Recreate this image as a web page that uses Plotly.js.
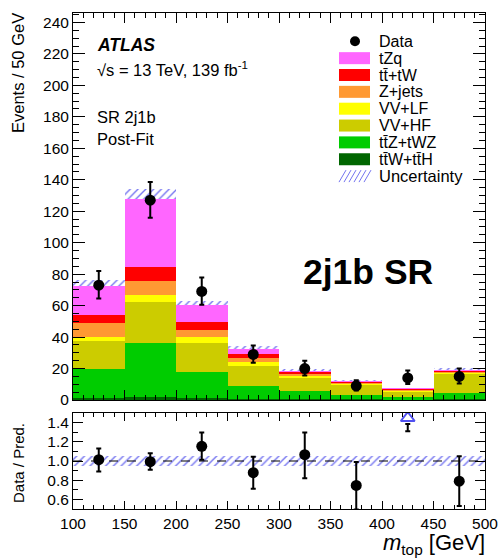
<!DOCTYPE html>
<html>
<head>
<meta charset="utf-8">
<script src="https://cdn.plot.ly/plotly-3.0.1.min.js"></script>
<style>html,body{margin:0;padding:0;background:#fff;}#plot{width:498px;height:559px;}</style>
</head>
<body>
<div id="plot"></div>
<script>
// ---------------- data ----------------
const binCenters = [125, 175, 225, 275, 325, 375, 425, 475];
const binWidth = 50;

// stacked backgrounds (bottom -> top), events per bin
const ttWttH = [1.5, 2.0, 1.5, 0.8, 0.6, 0.4, 0.3, 0.5];
const ttZtWZ = [17.9, 34.1, 16.3, 8.4, 5.1, 2.8, 1.4, 3.8];
const vvHF   = [17.8, 26.1, 18.5, 12.3, 8.1, 6.4, 3.6, 12.1];
const vvLF   = [2.6, 4.5, 3.5, 2.5, 1.5, 0.7, 0.7, 0.6];
const zJets  = [9.0, 9.0, 4.9, 2.9, 1.1, 0.5, 0.5, 0.9];
const ttTW   = [5.4, 8.6, 4.8, 2.6, 1.3, 0.7, 0.5, 0.6];
const tZq    = [18.3, 43.7, 10.7, 3.2, 0.8, 0.6, 0.5, 0.7];

// total prediction uncertainty (absolute)
const predUnc = [3.6, 6.4, 3.0, 1.6, 0.9, 0.6, 0.4, 1.0];

// data
const dataY      = [73, 127, 69, 29, 20, 9, 14, 15];
const dataErrUp  = [9.0, 11.5, 8.8, 5.6, 5.0, 3.5, 4.7, 5.0];
const dataErrDn  = [8.5, 11.2, 8.4, 5.4, 4.5, 2.9, 3.8, 4.5];

// ratio panel
const ratioY      = [1.014, 0.993, 1.153, 0.878, 1.066, 0.746, 1.87, 0.79];
const ratioErrUp  = [0.116, 0.087, 0.143, 0.167, 0.23, 0.244, 0.60, 0.26];
const ratioErrDn  = [0.124, 0.083, 0.139, 0.168, 0.246, 0.25, 0.56, 0.26];
const ratioUnc    = [0.05, 0.05, 0.05, 0.05, 0.05, 0.05, 0.05, 0.05];

const xTicks = [100, 150, 200, 250, 300, 350, 400, 450, 500];

const samples = [
  {name: 'tt̄W+tt̄H', vals: ttWttH, color: '#006600'},
  {name: 'tt̄Z+tWZ', vals: ttZtWZ, color: '#00CC00'},
  {name: 'VV+HF', vals: vvHF, color: '#CCCC00'},
  {name: 'VV+LF', vals: vvLF, color: '#FFFF00'},
  {name: 'Z+jets', vals: zJets, color: '#FF9933'},
  {name: 'tt̄+tW', vals: ttTW, color: '#FF0000'},
  {name: 'tZq', vals: tZq, color: '#FF66FF'}
];
const legendOrder = ['tZq', 'tt̄+tW', 'Z+jets', 'VV+LF', 'VV+HF', 'tt̄Z+tWZ', 'tt̄W+tt̄H'];

// ---------------- build ----------------
const FONT = 'Liberation Sans, Arial, Helvetica, sans-serif';
const hatchColor = '#7474F0';
const traces = [];

const total = binCenters.map((_, i) => samples.reduce((s, smp) => s + smp.vals[i], 0));

// uncertainty band (drawn first so the stack hides its lower half)
traces.push({
  type: 'bar', x: binCenters, y: predUnc.map(u => 2 * u),
  base: total.map((t, i) => t - predUnc[i]), width: binWidth,
  marker: {color: 'rgba(0,0,0,0)', line: {width: 0},
           pattern: {shape: '/', fgcolor: hatchColor, bgcolor: 'rgba(0,0,0,0)', size: 5.5, solidity: 0.25}},
  xaxis: 'x', yaxis: 'y', showlegend: false, hoverinfo: 'skip'
});

let cum = binCenters.map(() => 0);
samples.forEach(smp => {
  traces.push({
    type: 'bar', x: binCenters, y: smp.vals, base: cum.slice(), width: binWidth,
    marker: {color: smp.color, line: {width: 0}}, name: smp.name,
    xaxis: 'x', yaxis: 'y', showlegend: false
  });
  cum = cum.map((c, i) => c + smp.vals[i]);
});

traces.push({
  type: 'scatter', mode: 'markers', x: binCenters, y: dataY,
  marker: {color: 'black', size: 11},
  error_y: {type: 'data', symmetric: false, array: dataErrUp, arrayminus: dataErrDn, color: 'black', thickness: 2, width: 2.5},
  xaxis: 'x', yaxis: 'y', showlegend: false, name: 'Data'
});

// ratio panel
traces.push({
  type: 'bar', x: binCenters, y: ratioUnc.map(u => 2 * u),
  base: ratioUnc.map(u => 1 - u), width: binWidth,
  marker: {color: 'rgba(0,0,0,0)', line: {width: 0},
           pattern: {shape: '/', fgcolor: hatchColor, bgcolor: 'rgba(0,0,0,0)', size: 5.5, solidity: 0.25}},
  xaxis: 'x2', yaxis: 'y2', showlegend: false, hoverinfo: 'skip'
});

const RMAX = 1.5;
const inX = [], inY = [], inUp = [], inDn = [];
const outX = [], outLow = [];
binCenters.forEach((x, i) => {
  if (ratioY[i] <= RMAX) { inX.push(x); inY.push(ratioY[i]); inUp.push(ratioErrUp[i]); inDn.push(ratioErrDn[i]); }
  else { outX.push(x); outLow.push(ratioY[i] - ratioErrDn[i]); }
});
traces.push({
  type: 'scatter', mode: 'markers', x: inX, y: inY,
  marker: {color: 'black', size: 11},
  error_y: {type: 'data', symmetric: false, array: inUp, arrayminus: inDn, color: 'black', thickness: 2, width: 2.5},
  xaxis: 'x2', yaxis: 'y2', showlegend: false
});
// out-of-range arrows
const arrowY = 1.448, arrowStem = 1.385;
traces.push({
  type: 'scatter', mode: 'markers', x: outX, y: outX.map(() => arrowStem),
  marker: {color: 'rgba(0,0,0,0)', size: 1},
  error_y: {type: 'data', symmetric: false, array: outX.map(() => 0), arrayminus: outLow.map(l => arrowStem - l), color: 'black', thickness: 2, width: 2.5},
  xaxis: 'x2', yaxis: 'y2', showlegend: false, hoverinfo: 'skip'
});
traces.push({
  type: 'scatter', mode: 'markers', x: outX, y: outX.map(() => arrowY),
  marker: {symbol: 'triangle-up-open', color: '#5050F0', size: 12, line: {width: 2, color: '#5050F0'}},
  xaxis: 'x2', yaxis: 'y2', showlegend: false, hoverinfo: 'skip'
});

// ---------------- layout helpers ----------------
const L = 73, R = 485, T = 13, B = 509;
const px2x = px => (px - L) / (R - L);
const py2y = py => (B - py) / (B - T);

const annotations = [];
const shapes = [];
function txt(text, px, py, size, opts) {
  annotations.push(Object.assign({
    text: text, x: px2x(px), y: py2y(py), xref: 'paper', yref: 'paper',
    xanchor: 'left', yanchor: 'middle', showarrow: false,
    font: {family: FONT, size: size, color: 'black'}
  }, opts || {}));
}

txt('<b><i>ATLAS</i></b>', 95, 45, 17.5);
txt('√s = 13 TeV, 139 fb<sup>-1</sup>', 95, 69, 16.5);
txt('SR 2j1b', 95, 117, 16.5);
txt('Post-Fit', 95, 139, 16.5);
txt('<b>2j1b SR</b>', 368, 272, 35.5, {xanchor: 'center'});

// axis titles
txt('Events / 50 GeV', 18, 73, 16.5, {xanchor: 'center', textangle: -90});
txt('Data / Pred.', 18, 463, 15, {xanchor: 'center', textangle: -90});
txt('<i>m</i><sub>top</sub> [GeV]', 487, 544, 22, {xanchor: 'right'});

// manual legend
const legX0 = 339, legX1 = 370, legTextX = 377, legTop = 41.3, legStep = 16.85;
shapes.push({type: 'circle', xref: 'paper', yref: 'paper',
  x0: px2x(355 - 5), x1: px2x(355 + 5), y0: py2y(legTop + 5), y1: py2y(legTop - 5),
  fillcolor: 'black', line: {width: 0}});
txt('Data', legTextX, legTop, 16);
legendOrder.forEach((nm, k) => {
  const smp = samples.find(s => s.name === nm);
  const cy = legTop + legStep * (k + 1);
  shapes.push({type: 'rect', xref: 'paper', yref: 'paper',
    x0: px2x(legX0), x1: px2x(legX1), y0: py2y(cy + 6), y1: py2y(cy - 6),
    fillcolor: smp.color, line: {width: 0}});
  txt(nm, legTextX, cy, 16);
});
const uy = legTop + legStep * 8;
for (let xs = legX0; xs <= legX1 - 6; xs += 5) {
  shapes.push({type: 'line', xref: 'paper', yref: 'paper',
    x0: px2x(xs), x1: px2x(xs + 7), y0: py2y(uy + 6), y1: py2y(uy - 6),
    line: {color: hatchColor, width: 1}});
}
txt('Uncertainty', legTextX, uy, 16.5);

// ratio dashed line at 1
shapes.push({type: 'line', xref: 'x2', yref: 'y2', x0: 100, x1: 500, y0: 1, y1: 1,
  line: {color: 'black', width: 1.2, dash: 'dash'}});

const axCommon = {
  showline: true, linecolor: 'black', linewidth: 1, mirror: 'allticks',
  ticks: 'inside', tickcolor: 'black', showgrid: false, zeroline: false,
  ticklabeloverflow: 'allow',
  tickfont: {family: FONT, size: 15.5, color: 'black'}
};

const layout = {
  width: 498, height: 559,
  margin: {l: L, r: 498 - R, t: T, b: 559 - B, pad: 0},
  paper_bgcolor: 'white', plot_bgcolor: 'white',
  barmode: 'overlay', bargap: 0,
  showlegend: false,
  xaxis: Object.assign({}, axCommon, {
    range: [100, 500], domain: [0, 1], anchor: 'y', showticklabels: false,
    tickvals: xTicks, ticklen: 10, tickwidth: 1,
    minor: {ticks: 'inside', dtick: 10, tick0: 100, ticklen: 5, tickcolor: 'black'}
  }),
  yaxis: Object.assign({}, axCommon, {
    range: [0, 246], domain: [py2y(400), 1], anchor: 'x',
    tick0: 0, dtick: 20, ticklen: 12, tickwidth: 1,
    minor: {ticks: 'inside', dtick: 5, ticklen: 6, tickcolor: 'black'}
  }),
  xaxis2: Object.assign({}, axCommon, {
    range: [100, 500], domain: [0, 1], anchor: 'y2', matches: 'x',
    tickvals: xTicks, ticktext: xTicks.map(String), ticklen: 8, tickwidth: 1,
    minor: {ticks: 'inside', dtick: 10, tick0: 100, ticklen: 4, tickcolor: 'black'}
  }),
  yaxis2: Object.assign({}, axCommon, {
    range: [0.5, 1.5], domain: [0, py2y(413)], anchor: 'x2',
    tick0: 0, dtick: 0.2, tickformat: '.1f', ticklen: 10, tickwidth: 1,
    minor: {ticks: 'inside', dtick: 0.1, ticklen: 5, tickcolor: 'black'}
  }),
  annotations: annotations,
  shapes: shapes
};

Plotly.newPlot('plot', traces, layout, {staticPlot: true, displayModeBar: false});
</script>
</body>
</html>
